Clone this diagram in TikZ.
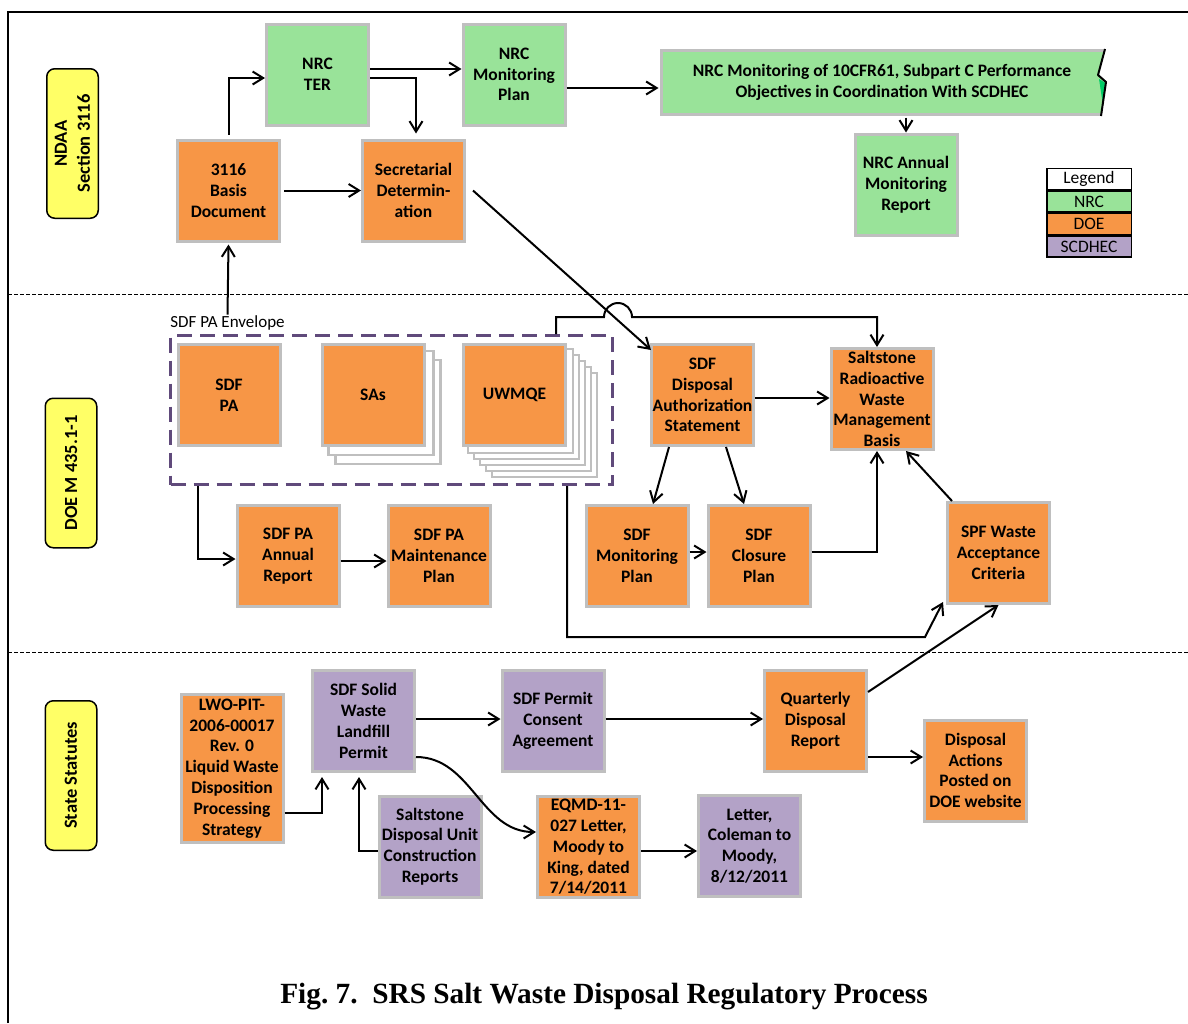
\documentclass[tikz,border=0pt]{standalone}
\usepackage{fontspec}
\setmainfont{Carlito}
\newfontfamily\capfont{Liberation Serif}
\usetikzlibrary{arrows.meta,backgrounds}
\definecolor{dorange}{HTML}{F79646}
\definecolor{ngreen}{HTML}{99E399}
\definecolor{bgreen}{HTML}{00CC66}
\definecolor{spurple}{HTML}{B3A2C7}
\definecolor{ylab}{HTML}{FFFF66}
\definecolor{bgray}{HTML}{BFBFBF}
\definecolor{envpurple}{HTML}{604A7B}
\begin{document}
\begin{tikzpicture}[x=1pt,y=-1pt,
  box/.style={draw=bgray, line width=3pt, inner sep=0pt, align=center,
    minimum width=102pt, minimum height=101pt,
    font=\fontsize{17.5}{20.8}\selectfont\bfseries},
  doe/.style={box, fill=dorange},
  nrc/.style={box, fill=ngreen},
  dhec/.style={box, fill=spurple},
  conn/.style={line width=2pt, -{Straight Barb[length=10.5pt,width=13pt]}},
  sheet/.style={draw=bgray, fill=white, line width=2.5pt},
  ylabel/.style={draw=black, line width=1.5pt, fill=ylab, rounded corners=8pt,
    rotate=90, align=center, inner sep=0pt, minimum width=149.5pt, minimum height=51.5pt,
    font=\fontsize{18.5}{23}\selectfont\bfseries},
  leg/.style={draw=black, line width=1.5pt, inner sep=0pt, minimum width=84.5pt,
    minimum height=21pt, font=\fontsize{17.5}{18}\selectfont},
  sepline/.style={line width=1pt, dash pattern=on 4pt off 2pt}
]
\useasboundingbox (0,0) rectangle (1188,1023);
% frame and separators
\draw[line width=2pt] (7.5,1023) -- (7.5,12) -- (1188,12);
\draw[sepline] (8,294) -- (1188,294);
\draw[sepline] (8,652) -- (1188,652);

% lane labels
\node[ylabel] (lndaa) at (72.5,143.5) {NDAA\\Section 3116};
\node[ylabel] (ldoe) at (71,473) {DOE M 435.1-1};
\node[ylabel] (lstate) at (71,775.5) {State Statutes};

% top lane
\node[nrc] (ter) at (317.5,74.5) {NRC\\TER};
\node[nrc] (nrcmp) at (514,74.5) {NRC\\Monitoring\\Plan};
% wide box with a torn right edge
\fill[ngreen] (661.5,50.5) -- (1104.5,50.5) -- (1098,75) -- (1106,82) -- (1101,114.5) -- (661.5,114.5) -- cycle;
\fill[bgreen] (1099,79) -- (1105.5,83) -- (1102.5,102) -- cycle;
\draw[bgray, line width=3pt] (1104,50.5) -- (661.5,50.5) -- (661.5,114.5) -- (1101,114.5);
\draw[line width=2pt, line join=round] (1105,49) -- (1098,75) -- (1106,82) -- (1101,116);
\node[box, draw=none, minimum width=444pt, minimum height=67pt] (big) at (882,82.5)
  {NRC Monitoring of 10CFR61, Subpart C Performance\\Objectives in Coordination With SCDHEC};
\node[nrc] (nrcann) at (906,184.5) {NRC Annual\\Monitoring\\Report};
\node[doe] (basis) at (228.5,190.5) {3116\\Basis\\Document};
\node[doe] (secr) at (413.5,190.5) {Secretarial\\Determin-\\ation};

% legend
\node[leg, fill=white] (lg0) at (1089,179) {Legend};
\node[leg, fill=ngreen] (lg1) at (1089,201.5) {NRC};
\node[leg, fill=dorange] (lg2) at (1089,224) {DOE};
\node[leg, fill=spurple] (lg3) at (1089,246.5) {SCDHEC};

% middle lane
\node[font=\fontsize{17}{20}\selectfont, inner sep=1pt] (envlabel) at (227.5,323) {SDF PA Envelope};
\node[draw=envpurple, line width=3pt, dash pattern=on 15pt off 8pt, minimum width=442pt,
  minimum height=149pt, inner sep=0pt] (env) at (391.5,410) {};
\node[doe] (sdfpa) at (229,395) {SDF\\PA};
\node[doe] (sas) at (373,395) {SAs};
\node[doe] (uwmqe) at (514.5,395) {UWMQE};
\begin{scope}[on background layer]
  \foreach \o/\p in {15/17,8/8}
    \draw[sheet] ([shift={(\o,\p)}]sas.north west) rectangle ([shift={(\o,\p)}]sas.south east);
  \foreach \o in {30,24,18,12,6}
    \draw[sheet] ([shift={(\o,\o)}]uwmqe.north west) rectangle ([shift={(\o,\o)}]uwmqe.south east);
\end{scope}
\node[doe] (das) at (702.5,395) {SDF\\Disposal\\Authorization\\Statement};
\node[doe] (salt) at (882,399) {Saltstone\\Radioactive\\Waste\\Management\\Basis};
\node[doe] (paann) at (288,556) {SDF PA\\Annual\\Report};
\node[doe] (pamaint) at (439,556) {SDF PA\\Maintenance\\Plan};
\node[doe] (sdfmon) at (637,556) {SDF\\Monitoring\\Plan};
\node[doe] (closure) at (759,556) {SDF\\Closure\\Plan};
\node[doe] (spf) at (998.5,553) {SPF Waste\\Acceptance\\Criteria};

% bottom lane
\node[doe, minimum height=148pt] (lwo) at (232,768.5) {LWO-PIT-\\2006-00017\\Rev. 0\\Liquid Waste\\Disposition\\Processing\\Strategy};
\node[dhec] (solid) at (363.5,721) {SDF Solid\\Waste\\Landfill\\Permit};
\node[dhec] (consent) at (553,721) {SDF Permit\\Consent\\Agreement};
\node[doe] (quarterly) at (815.5,721) {Quarterly\\Disposal\\Report};
\node[doe] (actions) at (975.5,770.5) {Disposal\\Actions\\Posted on\\DOE website};
\node[dhec] (sdu) at (430,846.5) {Saltstone\\Disposal Unit\\Construction\\Reports};
\node[doe] (eqmd) at (588.5,847) {EQMD-11-\\027 Letter,\\Moody to\\King, dated\\7/14/2011};
\node[dhec] (letter) at (749.5,846) {Letter,\\Coleman to\\Moody,\\8/12/2011};

% connectors
\draw[conn] ([yshift=4pt]basis.north) |- ([yshift=-3.5pt]ter.west);
\draw[conn] ([yshift=5.5pt]ter.east) -- ([yshift=5.5pt]nrcmp.west);
\draw[conn] ([yshift=-3.5pt]ter.east) -| ([xshift=2.5pt,yshift=5pt]secr.north);
\draw[conn] ([xshift=3pt]basis.east) -- (secr.west);
\draw[conn] ([yshift=-13.5pt]nrcmp.east) -- ([yshift=-5.5pt]big.west);
\draw[conn] (nrcann.north |- big.south) -- (nrcann.north);
\draw[conn] ([xshift=7pt]secr.east) -- ([xshift=1pt,yshift=-7pt]das.north west);
\draw[conn] (envlabel.north) -- ([yshift=-2pt]basis.south);
\draw[conn] ([xshift=29pt]env.south west) |- ([yshift=-3pt]paann.west);
\draw[conn] ([yshift=-5pt]paann.east) -- ([yshift=-5pt]pamaint.west);
\coordinate (b1) at (925,637);
\draw[conn] ([xshift=-47pt]env.south east) |- (b1) -- ([shift={(-3,-3)}]spf.south west);
\coordinate (hopA) at (604,317);
\draw[conn] ([xshift=-58pt]env.north east) |- (hopA) arc[start angle=180,end angle=360,radius=14] -| ([xshift=-5pt]salt.north);
\draw[conn] ([yshift=-3pt]das.east) -- ([yshift=1pt]salt.west);
\draw[conn] ([xshift=-33.5pt]das.south) -- ([xshift=16pt]sdfmon.north);
\draw[conn] ([xshift=23.5pt]das.south) -- ([xshift=-15pt]closure.north);
\draw[conn] ([yshift=4pt]sdfmon.east) -- ([yshift=4pt]closure.west);
\draw[conn] ([yshift=4pt]closure.east) -| ([xshift=-5pt]salt.south);
\draw[conn] ([xshift=6pt]spf.north west) -- ([xshift=24pt]salt.south);
\draw[conn] ([yshift=-23pt]quarterly.north east) -- (spf.south);
\draw[conn] ([yshift=2pt]solid.east) -- ([yshift=2pt]consent.west);
\draw[conn] ([yshift=2pt]consent.east) -- ([yshift=2pt]quarterly.west);
\draw[conn] ([yshift=-36pt]quarterly.east) -- ([yshift=13.5pt]actions.west);
\draw[conn] ([yshift=-44.5pt]lwo.east) -| ([xshift=-41.5pt,yshift=-4pt]solid.south);
\draw[conn] ([yshift=-4.5pt]sdu.west) -| ([xshift=-4.5pt,yshift=-4pt]solid.south);
\draw[conn] ([yshift=-36pt]solid.east) to[out=0,in=180] ([yshift=15pt]eqmd.west);
\draw[conn] ([yshift=-4pt]eqmd.east) -- ([yshift=-5pt]letter.west);

% caption
\node[font=\capfont\bfseries\fontsize{29.3}{34}\selectfont] (cap) at (604,997)
  {Fig.\ 7.\hspace{0.5em}SRS Salt Waste Disposal Regulatory Process};
\end{tikzpicture}
\end{document}
